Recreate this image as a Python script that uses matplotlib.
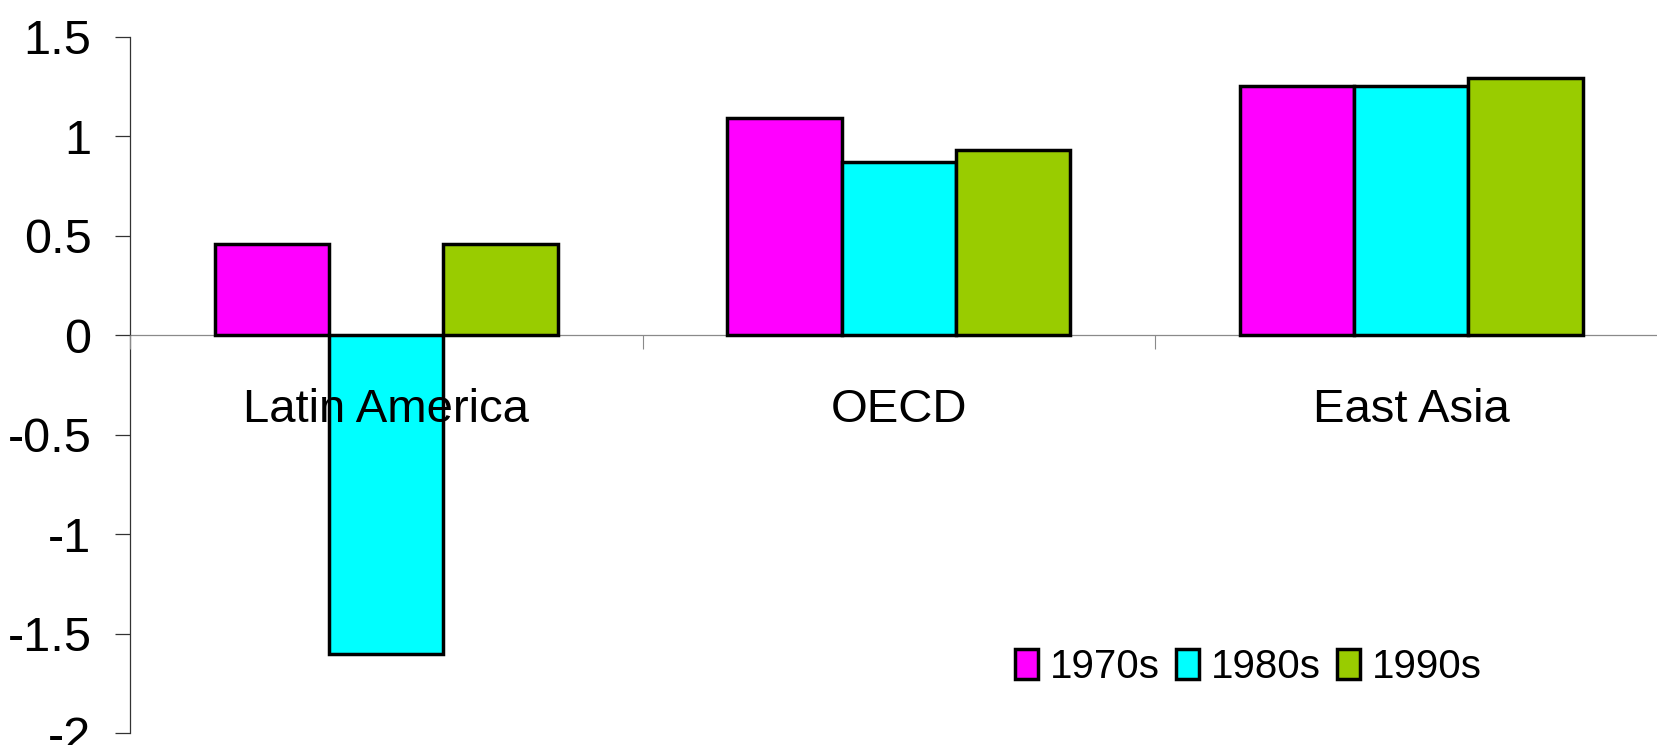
import numpy as np
import matplotlib
matplotlib.use("Agg")
import matplotlib.pyplot as plt

plt.rcParams['font.family'] = ['Liberation Sans', 'DejaVu Sans']
plt.rcParams['axes.unicode_minus'] = False

# data
regions = ["Latin America", "OECD", "East Asia"]
decades = ["1970s", "1980s", "1990s"]
vals_1970s = [0.46, 1.09, 1.25]
vals_1980s = [-1.60, 0.87, 1.25]
vals_1990s = [0.46, 0.93, 1.29]
colors = ["#FF00FF", "#00FFFF", "#99CC00"]
yticks = [-2, -1.5, -1, -0.5, 0, 0.5, 1, 1.5]
ytick_labels = ["-2", "-1.5", "-1", "-0.5", "0", "0.5", "1", "1.5"]

fig = plt.figure(figsize=(16.57, 7.45), dpi=100)
ax = fig.add_axes([130 / 1657, 11.7 / 745, (1667.5 - 130) / 1657, (733.3 - 36.7) / 745])

x = np.arange(len(regions))
width = 0.223
series = [vals_1970s, vals_1980s, vals_1990s]
for i, (vals, name, col) in enumerate(zip(series, decades, colors)):
    ax.bar(x + (i - 1) * width, vals, width, color=col, edgecolor="black",
           linewidth=2.5, label=name, zorder=2.2)

ax.set_xlim(-0.5, 2.5)
ax.set_ylim(-2, 1.5)

# y axis
ax.set_yticks(yticks)
ax.set_yticklabels(ytick_labels)
ax.tick_params(axis="y", direction="out", length=10.8, width=0.9, color="#333333",
               pad=17, labelsize=35)
ax.spines["left"].set_color("#333333")
ax.spines["left"].set_linewidth(0.9)

# category axis sits on zero
ax.spines["bottom"].set_position(("data", 0))
ax.spines["bottom"].set_color("#8a8a8a")
ax.spines["bottom"].set_linewidth(0.9)
ax.spines["bottom"].set_zorder(2)
ax.spines["top"].set_visible(False)
ax.spines["right"].set_visible(False)
ax.xaxis.set_zorder(2.5)  # labels over the bars, like the reference
ax.set_xticks([-0.5, 0.5, 1.5, 2.5])
ax.set_xticklabels([])
ax.tick_params(axis="x", which="major", direction="out", length=10, width=0.8,
               color="#8a8a8a")
ax.set_xticks(x, minor=True)
ax.set_xticklabels(regions, minor=True)
ax.tick_params(axis="x", which="minor", length=0, pad=38, labelsize=34)

leg = ax.legend(loc="center right", bbox_to_anchor=(1482 / 1657, 78 / 745),
                bbox_transform=fig.transFigure, ncol=3, frameon=False,
                fontsize=29, handlelength=0.57, handleheight=0.78,
                handletextpad=0.3, columnspacing=0.4, borderpad=0,
                borderaxespad=0)

fig.savefig("out.png", dpi=100)
